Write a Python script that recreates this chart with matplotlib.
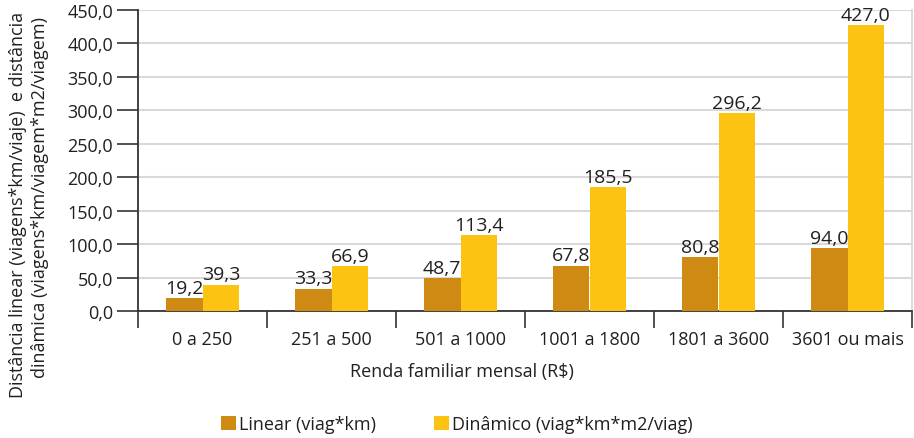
import matplotlib
matplotlib.use("Agg")
import matplotlib.pyplot as plt
import numpy as np
from matplotlib.ticker import FuncFormatter, FixedLocator

plt.rcParams['font.family'] = ['Open Sans', 'DejaVu Sans']

categories = ["0 a 250", "251 a 500", "501 a 1000", "1001 a 1800", "1801 a 3600", "3601 ou mais"]
linear = [19.2, 33.3, 48.7, 67.8, 80.8, 94.0]
dinamico = [39.3, 66.9, 113.4, 185.5, 296.2, 427.0]
series_names = ["Linear (viag*km)", "Dinâmico (viag*km*m2/viag)"]

c_lin = "#CE8A12"
c_din = "#FDC312"
txt = "#231F20"

fig = plt.figure(figsize=(9.14, 4.39), dpi=100)
ax = fig.add_axes([138/914, 1 - 312/439, (912-138)/914, (312-11)/439])

x = np.arange(len(categories))
w = 0.285
b1 = ax.bar(x - w/2, linear, w, color=c_lin, label=series_names[0], zorder=3)
b2 = ax.bar(x + w/2, dinamico, w, color=c_din, label=series_names[1], zorder=3)

fmt = lambda v: f"{v:.1f}".replace(".", ",")
for bars, vals in ((b1, linear), (b2, dinamico)):
    for r, v in zip(bars, vals):
        ax.text(r.get_x() + r.get_width()/2, v + 2, fmt(v), ha="center", va="bottom",
                fontsize=14, color=txt, zorder=4)

ax.set_xlim(-0.5, len(categories) - 0.5)
ax.set_ylim(0, 450)
ax.set_yticks(np.arange(0, 451, 50))
ax.yaxis.set_major_formatter(FuncFormatter(lambda v, p: fmt(v)))
ax.grid(axis="y", color="#D9D9D9", linewidth=1.5, zorder=0)

ax.set_xticks(x)
ax.set_xticklabels(categories)
ax.xaxis.set_minor_locator(FixedLocator(np.arange(-0.5, len(categories), 1)))
ax.tick_params(axis="x", which="major", length=0, pad=14, labelsize=13, colors=txt)
ax.tick_params(axis="x", which="minor", length=12, width=1.2, color="#333333")
ax.tick_params(axis="y", length=15, width=1.2, color="#333333", labelsize=13, labelcolor=txt, pad=3)

for s in ("left", "bottom"):
    ax.spines[s].set_color("#333333")
    ax.spines[s].set_linewidth(1.3)
ax.spines["top"].set_visible(False)
ax.spines["right"].set_color("#D9D9D9")
ax.spines["right"].set_linewidth(1.3)

ax.set_xlabel("Renda familiar mensal (R$)", fontsize=13, color=txt)
ax.xaxis.set_label_coords((462 - 138) / 774, -(372 - 312) / 301)
ax.xaxis.label.set_va("center")

fig.text(18/914, 1 - 205/439, "Distância linear (viagens*km/viaje)  e distância",
         rotation=90, ha="center", va="center", fontsize=13, color=txt)
fig.text(40/914, 1 - 198/439, "dinâmica (viagens*km/viagem*m2/viagem)",
         rotation=90, ha="center", va="center", fontsize=13, color=txt)

fig.legend(handles=[b1, b2], labels=series_names, loc="center", bbox_to_anchor=(0.5, 1 - 425/439),
           ncol=2, frameon=False, fontsize=13, handlelength=0.8, handleheight=0.8,
           handletextpad=0.2, columnspacing=3.2, labelcolor=txt)

fig.savefig("out.png", dpi=100)
